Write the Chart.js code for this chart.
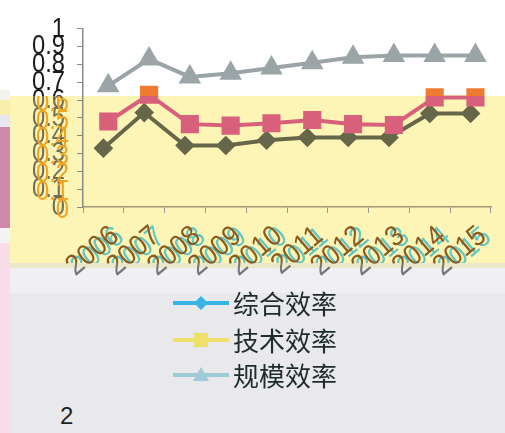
<!DOCTYPE html>
<html>
<head>
<meta charset="utf-8">
<script src="https://cdn.jsdelivr.net/npm/chart.js@4.4.1/dist/chart.umd.min.js"></script>
<style>
  html, body { margin: 0; padding: 0; width: 505px; height: 433px; overflow: hidden; background: #fff; position: relative; }
  .blk { position: absolute; }
  #wrap { position: absolute; left: 0; top: 0; width: 505px; height: 290px; }
  .leg { position: absolute; left: 173px; height: 36px; display: flex; align-items: center; }
  .leg span { font-family: "Noto Sans CJK SC", sans-serif; font-size: 26px; line-height: 36px; color: #1d2b2b; margin-left: 4px; }
  #page { position: absolute; left: 60px; top: 400px; font-family: "Liberation Sans", sans-serif; font-size: 24px; line-height: 32px; color: #222; }
</style>
</head>
<body>
<!-- backdrop pieces -->
<div class="blk" style="left:0;top:90px;width:10px;height:10px;background:#f3f2ec"></div>
<div class="blk" style="left:0;top:100px;width:10px;height:15px;background:#f8efad"></div>
<div class="blk" style="left:0;top:115px;width:10px;height:12px;background:#e6e7f0"></div>
<div class="blk" style="left:0;top:127px;width:10px;height:101px;background:#cf89ab"></div>
<div class="blk" style="left:0;top:228px;width:10px;height:15px;background:#f4f4f4"></div>
<div class="blk" style="left:0;top:243px;width:10px;height:190px;background:#f9dde8"></div>
<div class="blk" style="left:10px;top:96px;width:495px;height:167px;background:#fdf5b6"></div>
<div class="blk" style="left:10px;top:263px;width:495px;height:5px;background:#ebe7c8"></div>
<div class="blk" style="left:10px;top:268px;width:495px;height:25px;background:#f0f0f2"></div>
<div class="blk" style="left:10px;top:293px;width:495px;height:140px;background:#e9e9eb"></div>

<div id="wrap"><canvas id="chart" width="505" height="290"></canvas></div>

<div class="leg" style="top:285px"><canvas id="ic0" width="56" height="20"></canvas><span id="lg0"></span></div>
<div class="leg" style="top:322px"><canvas id="ic1" width="56" height="20"></canvas><span id="lg1"></span></div>
<div class="leg" style="top:357px"><canvas id="ic2" width="56" height="20"></canvas><span id="lg2"></span></div>
<div id="page">2</div>

<script>
// Data
const years = ['2006', '2007', '2008', '2009', '2010', '2011', '2012', '2013', '2014', '2015'];
const seriesNames = ['综合效率', '技术效率', '规模效率'];
const overallEff = [0.33, 0.53, 0.345, 0.345, 0.375, 0.39, 0.39, 0.39, 0.525, 0.525];
const techEff = [0.48, 0.63, 0.465, 0.457, 0.47, 0.488, 0.465, 0.46, 0.615, 0.615];
const scaleEff = [0.68, 0.83, 0.73, 0.75, 0.78, 0.81, 0.84, 0.85, 0.85, 0.85];
const yMin = 0, yMax = 1, yStep = 0.1;

// Styling
const BAND_TOP = 96;
const BAND_BOTTOM = 263;
const LAYER_SHIFT = 5 / 42; // second layer sits ~5px to the right
const TICK_FAMILY = '"Liberation Sans", Arial, sans-serif';
const Y_FONT = 28, X_FONT = 29;

// horizontal squeeze so a sample string ends up a given width
function squeezeFor(size, text, width) {
  const c = document.createElement('canvas').getContext('2d');
  c.font = size + 'px ' + TICK_FAMILY;
  return Math.min(1, width / c.measureText(text).width);
}
const ySqueeze = squeezeFor(Y_FONT, '0.9', 33);
const xSqueeze = squeezeFor(X_FONT, '2006', 59);

// two colours split at a horizontal line
function split(y, above, below) {
  return (c) => {
    const ch = c.chart;
    const g = ch.ctx.createLinearGradient(0, 0, 0, ch.height);
    const f = y / ch.height;
    g.addColorStop(0, above);
    g.addColorStop(f, above);
    g.addColorStop(f, below);
    g.addColorStop(1, below);
    return g;
  };
}

// tick labels are painted here (narrowed), at the positions the scale computed
function paintLabels(ctx, scale, color, dx, dy, clip, squeeze) {
  ctx.save();
  ctx.beginPath();
  ctx.rect(clip[0], clip[1], clip[2], clip[3]);
  ctx.clip();
  ctx.fillStyle = color;
  scale.getLabelItems().forEach(item => {
    const o = item.options;
    ctx.save();
    ctx.translate(o.translation[0] + dx, o.translation[1] + dy);
    ctx.rotate(o.rotation);
    ctx.scale(squeeze, 1);
    ctx.font = item.font.string;
    ctx.textAlign = o.textAlign;
    ctx.textBaseline = o.textBaseline;
    ctx.fillText(item.label, 0, item.textOffset);
    ctx.restore();
  });
  ctx.restore();
}

const tickPainter = {
  id: 'tickPainter',
  afterDraw(chart) {
    const ctx = chart.ctx;
    const W = chart.width, H = chart.height;
    const y = chart.scales.y, x = chart.scales.x;
    paintLabels(ctx, y, '#1a1a1a', 0, 0, [0, 0, W, BAND_TOP], ySqueeze);
    paintLabels(ctx, y, '#6f6f58', 0, 0, [0, BAND_TOP, W, H], ySqueeze);
    paintLabels(ctx, y, '#f2a21e', 4, 3, [0, BAND_TOP, W, H], ySqueeze);
    paintLabels(ctx, x, '#5fc8c4', 5, 1, [0, 0, W, BAND_BOTTOM], xSqueeze);
    paintLabels(ctx, x, '#8d5a20', 0, 0, [0, 0, W, BAND_BOTTOM], xSqueeze);
    paintLabels(ctx, x, '#77777a', 0, 0, [0, BAND_BOTTOM, W, H], xSqueeze);
  }
};

const ctx = document.getElementById('chart').getContext('2d');
new Chart(ctx, {
  type: 'line',
  data: {
    labels: years,
    datasets: [
      {
        label: seriesNames[2],
        data: scaleEff,
        xAxisID: 'xb',
        borderColor: '#9ba4a6',
        backgroundColor: '#9ba4a6',
        pointBackgroundColor: '#9ba4a6',
        pointBorderColor: '#9ba4a6',
        borderWidth: 4,
        pointStyle: 'triangle',
        pointRadius: 9,
        tension: 0
      },
      {
        label: seriesNames[1],
        data: techEff,
        xAxisID: 'xb',
        borderColor: split(BAND_TOP, '#ef7b30', '#d9607a'),
        backgroundColor: split(BAND_TOP, '#ef7b30', '#d9607a'),
        pointBackgroundColor: split(BAND_TOP, '#ef7b30', '#d9607a'),
        pointBorderColor: split(BAND_TOP, '#ef7b30', '#d9607a'),
        borderWidth: 4,
        pointStyle: 'rect',
        pointRadius: 10,
        tension: 0
      },
      {
        label: seriesNames[0],
        data: overallEff,
        xAxisID: 'x',
        borderColor: '#66664a',
        backgroundColor: '#66664a',
        pointBackgroundColor: '#66664a',
        pointBorderColor: '#66664a',
        borderWidth: 4,
        pointStyle: 'rectRot',
        pointRadius: 7,
        tension: 0
      }
    ]
  },
  options: {
    responsive: false,
    animation: false,
    devicePixelRatio: 1,
    layout: { padding: { top: 3, right: 2, left: 0, bottom: 0 } },
    plugins: {
      legend: { display: false },
      tooltip: { enabled: false }
    },
    scales: {
      x: {
        type: 'category',
        offset: true,
        border: { color: '#a39676', width: 1.5 },
        grid: { offset: true, drawOnChartArea: false, tickLength: 6, color: '#999' },
        ticks: {
          autoSkip: false,
          minRotation: 40,
          maxRotation: 40,
          padding: 6,
          labelOffset: 12,
          color: 'rgba(0,0,0,0)',
          font: { family: TICK_FAMILY, size: X_FONT }
        },
        afterFit: (s) => { s.height = 83; }
      },
      xb: {
        type: 'linear',
        display: false,
        bounds: 'data',
        min: Number(years[0]) - 0.5 - LAYER_SHIFT,
        max: Number(years[years.length - 1]) + 0.5 - LAYER_SHIFT
      },
      y: {
        min: yMin,
        max: yMax,
        border: { color: '#8a8a8a', width: 1.5 },
        grid: { drawOnChartArea: false, tickLength: 6, color: '#8a8a8a' },
        ticks: {
          stepSize: yStep,
          autoSkip: false,
          padding: 12,
          callback: (v) => String(Math.round(v * 10) / 10),
          color: 'rgba(0,0,0,0)',
          font: { family: TICK_FAMILY, size: Y_FONT }
        },
        afterFit: (s) => { s.width = 83; }
      }
    }
  },
  plugins: [tickPainter]
});

// legend (html, line + marker icons)
const legendColors = ['#38b5e3', '#efe06a', '#9ecbd7'];
const legendShapes = ['diamond', 'square', 'triangle'];
legendShapes.forEach((shape, i) => {
  document.getElementById('lg' + i).textContent = seriesNames[i];
  const c = document.getElementById('ic' + i).getContext('2d');
  c.strokeStyle = legendColors[i];
  c.fillStyle = legendColors[i];
  c.lineWidth = 4;
  c.beginPath(); c.moveTo(0, 10); c.lineTo(56, 10); c.stroke();
  c.beginPath();
  if (shape === 'diamond') {
    c.moveTo(28, 3); c.lineTo(35, 10); c.lineTo(28, 17); c.lineTo(21, 10);
  } else if (shape === 'square') {
    c.rect(21, 3, 14, 14);
  } else {
    c.moveTo(28, 2); c.lineTo(36, 16); c.lineTo(20, 16);
  }
  c.closePath(); c.fill();
});
</script>
</body>
</html>
